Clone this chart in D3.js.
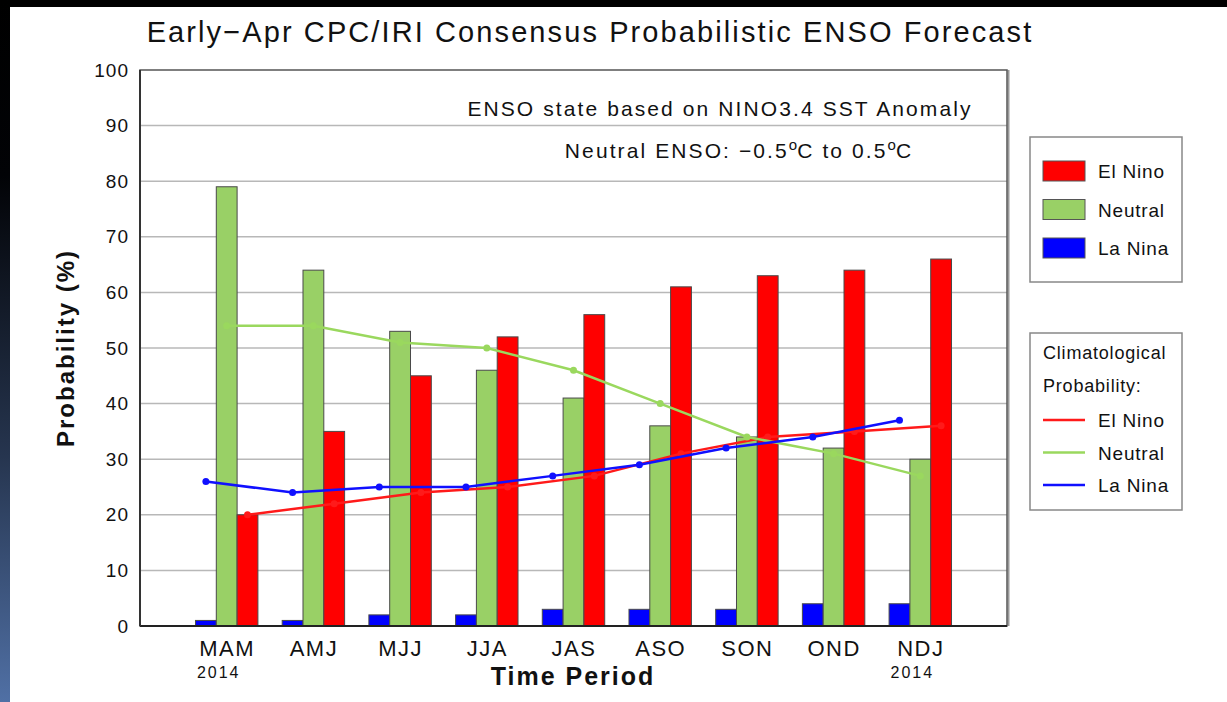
<!DOCTYPE html>
<html lang="en">
<head>
  <meta charset="UTF-8">
  <title>Early-Apr CPC/IRI Consensus Probabilistic ENSO Forecast</title>
  <script src="https://d3js.org/d3.v7.min.js"></script>
  <style>
    body {
      margin: 0;
      padding: 0;
      background: #fff;
    }
    svg text {
      font-family: "Liberation Sans", Arial, sans-serif;
      fill: #111;
    }
  </style>
</head>
<body>
  <div id="chart"></div>

  <script>
    // forecast probabilities (%) per 3-month season
    const periods = ["MAM", "AMJ", "MJJ", "JJA", "JAS", "ASO", "SON", "OND", "NDJ"];
    const laNina = [1, 1, 2, 2, 3, 3, 3, 4, 4];
    const neutral = [79, 64, 53, 46, 41, 36, 34, 32, 30];
    const elNino = [20, 35, 45, 52, 56, 61, 63, 64, 66];

    // climatological probabilities (%)
    const climLaNina = [26, 24, 25, 25, 27, 29, 32, 34, 37];
    const climNeutral = [54, 54, 51, 50, 46, 40, 34, 31, 27];
    const climElNino = [20, 22, 24, 25, 27, 31, 34, 35, 36];

    const yTicks = [0, 10, 20, 30, 40, 50, 60, 70, 80, 90, 100];
    const yearLabels = [{ period: "MAM", label: "2014" }, { period: "NDJ", label: "2014" }];

    const seriesNames = ["La Nina", "Neutral", "El Nino"];
    const colors = { "El Nino": "#ff0000", "Neutral": "#99d066", "La Nina": "#0000ff" };
    const lineColors = { "El Nino": "#ff1a1a", "Neutral": "#9ad85e", "La Nina": "#1010ff" };

    const W = 1227, H = 702;
    const plot = { left: 140, top: 70, right: 1007, bottom: 626 };

    const svg = d3.select("#chart")
      .append("svg")
      .attr("width", W)
      .attr("height", H);

    // dark frame on the top and left edges of the original image
    const grad = svg.append("defs").append("linearGradient")
      .attr("id", "edge")
      .attr("x1", 0).attr("y1", 0).attr("x2", 0).attr("y2", 1);
    grad.append("stop").attr("offset", "0%").attr("stop-color", "#000");
    grad.append("stop").attr("offset", "25%").attr("stop-color", "#020306");
    grad.append("stop").attr("offset", "65%").attr("stop-color", "#26354f");
    grad.append("stop").attr("offset", "100%").attr("stop-color", "#5070a5");
    svg.append("rect").attr("x", 0).attr("y", 0).attr("width", W).attr("height", 7).attr("fill", "#000");
    svg.append("rect").attr("x", 0).attr("y", 0).attr("width", 10).attr("height", H).attr("fill", "url(#edge)");

    const x = d3.scalePoint()
      .domain(periods)
      .range([plot.left, plot.right])
      .padding(1);

    const groupW = x.step() * 0.72;
    const xs = d3.scaleBand()
      .domain(seriesNames)
      .range([-groupW / 2, groupW / 2]);

    const y = d3.scaleLinear()
      .domain([0, 100])
      .range([plot.bottom, plot.top]);

    // grid
    svg.append("g")
      .selectAll("line")
      .data(yTicks.filter(d => d > 0 && d < 100))
      .join("line")
      .attr("x1", plot.left).attr("x2", plot.right)
      .attr("y1", d => y(d)).attr("y2", d => y(d))
      .attr("stroke", "#b8b8b8")
      .attr("stroke-width", 1.5);

    // y axis labels
    const yAxis = svg.append("g")
      .attr("transform", `translate(${plot.left},0)`)
      .call(d3.axisLeft(y).tickValues(yTicks).tickSize(0).tickPadding(11));
    yAxis.select(".domain").remove();
    yAxis.selectAll("text")
      .style("font-size", "19px")
      .style("letter-spacing", "1px");

    // bars
    const table = periods.map((p, i) => ({
      period: p,
      values: [
        { name: "La Nina", v: laNina[i] },
        { name: "Neutral", v: neutral[i] },
        { name: "El Nino", v: elNino[i] }
      ]
    }));

    svg.append("g")
      .selectAll("g")
      .data(table)
      .join("g")
      .attr("transform", d => `translate(${x(d.period)},0)`)
      .selectAll("rect")
      .data(d => d.values)
      .join("rect")
      .attr("x", d => xs(d.name))
      .attr("y", d => y(d.v))
      .attr("width", xs.bandwidth())
      .attr("height", d => y(0) - y(d.v))
      .attr("fill", d => colors[d.name])
      .attr("stroke", "#4a4a4a")
      .attr("stroke-width", 1);

    // climatological lines
    const clim = [
      { name: "El Nino", values: climElNino },
      { name: "Neutral", values: climNeutral },
      { name: "La Nina", values: climLaNina }
    ];
    const line = d3.line()
      .x(d => d.x)
      .y(d => y(d.v));

    clim.forEach(s => {
      const pts = periods.map((p, i) => ({ x: x(p) + xs(s.name) + xs.bandwidth() / 2, v: s.values[i] }));
      svg.append("path")
        .datum(pts)
        .attr("fill", "none")
        .attr("stroke", lineColors[s.name])
        .attr("stroke-width", 2.5)
        .attr("d", line);
      svg.append("g")
        .selectAll("circle")
        .data(pts)
        .join("circle")
        .attr("cx", d => d.x)
        .attr("cy", d => y(d.v))
        .attr("r", 3.5)
        .attr("fill", lineColors[s.name]);
    });

    // plot frame
    svg.append("line")
      .attr("x1", plot.right + 1.5).attr("x2", plot.right + 1.5)
      .attr("y1", plot.top).attr("y2", plot.bottom)
      .attr("stroke", "#9a9a9a").attr("stroke-width", 2);
    svg.append("rect")
      .attr("x", plot.left).attr("y", plot.top)
      .attr("width", plot.right - plot.left)
      .attr("height", plot.bottom - plot.top)
      .attr("fill", "none")
      .attr("stroke", "#555")
      .attr("stroke-width", 1.5);
    svg.append("line")
      .attr("x1", plot.left).attr("x2", plot.right)
      .attr("y1", plot.bottom).attr("y2", plot.bottom)
      .attr("stroke", "#222").attr("stroke-width", 2);
    svg.append("line")
      .attr("x1", plot.left).attr("x2", plot.left)
      .attr("y1", plot.top).attr("y2", plot.bottom)
      .attr("stroke", "#333").attr("stroke-width", 2);

    // x axis labels
    const xAxis = svg.append("g")
      .attr("transform", `translate(0,${plot.bottom})`)
      .call(d3.axisBottom(x).tickSize(0).tickPadding(14));
    xAxis.select(".domain").remove();
    xAxis.selectAll("text")
      .style("font-size", "22px")
      .style("letter-spacing", "1.5px");

    svg.append("g")
      .selectAll("text")
      .data(yearLabels)
      .join("text")
      .attr("x", d => x(d.period) - 8)
      .attr("y", 678)
      .attr("text-anchor", "middle")
      .style("font-size", "16px")
      .style("letter-spacing", "2px")
      .text(d => d.label);

    // titles
    svg.append("text")
      .attr("x", 590)
      .attr("y", 42)
      .attr("text-anchor", "middle")
      .style("font-size", "29px")
      .style("letter-spacing", "2.1px")
      .text("Early\u2212Apr CPC/IRI Consensus Probabilistic ENSO Forecast");

    svg.append("text")
      .attr("x", 573)
      .attr("y", 685)
      .attr("text-anchor", "middle")
      .style("font-size", "25px")
      .style("font-weight", "bold")
      .style("letter-spacing", "2px")
      .text("Time Period");

    svg.append("text")
      .attr("transform", "translate(74,348) rotate(-90)")
      .attr("text-anchor", "middle")
      .style("font-size", "24px")
      .style("font-weight", "bold")
      .style("letter-spacing", "2px")
      .text("Probability (%)");

    // annotation inside plot
    svg.append("text")
      .attr("x", 720)
      .attr("y", 116)
      .attr("text-anchor", "middle")
      .style("font-size", "21px")
      .style("letter-spacing", "2.1px")
      .text("ENSO state based on NINO3.4 SST Anomaly");

    const note = svg.append("text")
      .attr("x", 739)
      .attr("y", 158)
      .attr("text-anchor", "middle")
      .style("font-size", "21px")
      .style("letter-spacing", "2.1px");
    note.append("tspan").text("Neutral ENSO: \u22120.5");
    note.append("tspan").attr("dy", -8).style("font-size", "15px").style("letter-spacing", "0px").text("o");
    note.append("tspan").attr("dy", 8).text("C to 0.5");
    note.append("tspan").attr("dy", -8).style("font-size", "15px").style("letter-spacing", "0px").text("o");
    note.append("tspan").attr("dy", 8).text("C");

    // legend: forecast bars
    const lg1 = svg.append("g");
    lg1.append("rect")
      .attr("x", 1030).attr("y", 137).attr("width", 152).attr("height", 145)
      .attr("fill", "#fff").attr("stroke", "#888").attr("stroke-width", 1.5);
    const barKeys = ["El Nino", "Neutral", "La Nina"];
    const ly1 = d3.scalePoint().domain(barKeys).range([171, 248]);
    lg1.selectAll("rect.key")
      .data(barKeys)
      .join("rect")
      .attr("class", "key")
      .attr("x", 1043).attr("y", d => ly1(d) - 10)
      .attr("width", 42).attr("height", 20)
      .attr("fill", d => colors[d])
      .attr("stroke", "#555").attr("stroke-width", 1);
    lg1.selectAll("text")
      .data(barKeys)
      .join("text")
      .attr("x", 1098).attr("y", d => ly1(d) + 7)
      .style("font-size", "19px")
      .style("letter-spacing", "0.8px")
      .text(d => d);

    // legend: climatology lines
    const lg2 = svg.append("g");
    lg2.append("rect")
      .attr("x", 1030).attr("y", 333).attr("width", 152).attr("height", 177)
      .attr("fill", "#fff").attr("stroke", "#888").attr("stroke-width", 1.5);
    lg2.append("text").attr("x", 1043).attr("y", 359)
      .style("font-size", "18px").style("letter-spacing", "0.8px")
      .text("Climatological");
    lg2.append("text").attr("x", 1043).attr("y", 392)
      .style("font-size", "18px").style("letter-spacing", "0.8px")
      .text("Probability:");
    const ly2 = d3.scalePoint().domain(barKeys).range([420, 485]);
    lg2.selectAll("line")
      .data(barKeys)
      .join("line")
      .attr("x1", 1043).attr("x2", 1085)
      .attr("y1", d => ly2(d)).attr("y2", d => ly2(d))
      .attr("stroke", d => lineColors[d])
      .attr("stroke-width", 2.5);
    lg2.selectAll("text.key")
      .data(barKeys)
      .join("text")
      .attr("class", "key")
      .attr("x", 1098).attr("y", d => ly2(d) + 7)
      .style("font-size", "19px")
      .style("letter-spacing", "0.8px")
      .text(d => d);
  </script>
</body>
</html>
